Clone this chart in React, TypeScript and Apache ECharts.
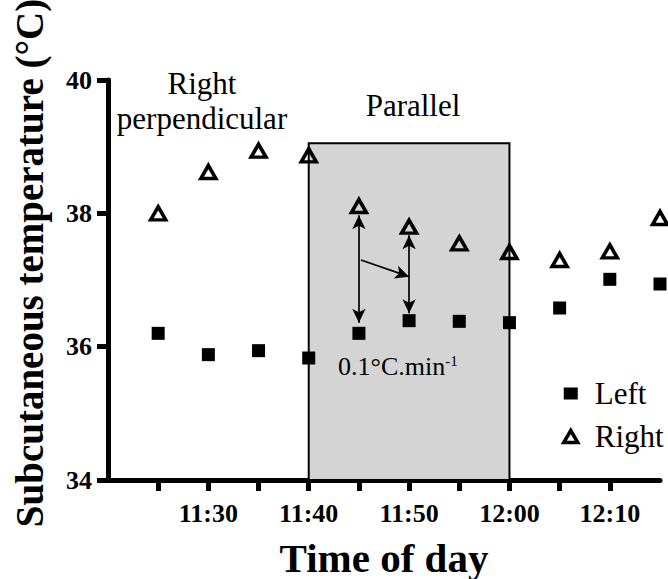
import React, { useEffect, useRef } from "react";
import * as echarts from "echarts";

const FONT = "Liberation Serif";

// Sample times, in minutes since midnight (11:25 … 12:15)
const sampleMinutes = [685, 690, 695, 700, 705, 710, 715, 720, 725, 730, 735];
// Subcutaneous temperature (°C), left and right side
const leftTemps = [36.2, 35.88, 35.94, 35.83, 36.2, 36.39, 36.38, 36.36, 36.58, 37.01, 36.94];
const rightTemps = [38.0, 38.62, 38.94, 38.87, 38.11, 37.8, 37.55, 37.42, 37.3, 37.43, 37.93];

// Time-axis labels (ticks every 5 min, labels every 10 min)
const xLabelMinutes = [690, 700, 710, 720, 730];

// Parallel positioning window (shaded block)
const parallelFrom = 700;
const parallelTo = 720;
const parallelTop = 39.05;

// Gap arrows and the rate arrow between them: [minute, from °C, to °C]
const gapArrowA = [705, 37.97, 36.36];
const gapArrowB = [710, 37.67, 36.5];
const rateArrowFrom = [705.2, 37.3];
const rateArrowTo = [710, 37.05];

const fmtTime = (v: number) =>
  xLabelMinutes.includes(v)
    ? `${Math.floor(v / 60)}:${String(v % 60).padStart(2, "0")}`
    : "";

export default function App() {
  const ref = useRef<HTMLDivElement>(null);

  useEffect(() => {
    if (!ref.current) return;
    const chart = echarts.init(ref.current, null, { renderer: "svg" });

    const boldText = (size: number) => ({
      fontFamily: FONT,
      fontWeight: "bold",
      fontSize: size,
      color: "#000",
    });
    const openTriangle = {
      color: "rgba(0,0,0,0)",
      borderColor: "#000",
      borderWidth: 3.5,
      opacity: 1,
    };

    const option: any = {
      animation: false,
      grid: { left: 108, right: 8, top: 80, bottom: 99, outerBoundsMode: "none" },
      legend: {
        orient: "vertical",
        left: 557,
        top: 373,
        itemWidth: 14,
        itemHeight: 12,
        itemGap: 12,
        textStyle: {
          fontFamily: FONT,
          fontSize: 31,
          color: "#000",
          lineHeight: 30,
          padding: [0, 0, 0, 12],
        },
        data: [{ name: "Left" }, { name: "Right", itemStyle: openTriangle }],
      },
      xAxis: {
        type: "value",
        min: 680,
        max: 735,
        interval: 5,
        splitLine: { show: false },
        axisLine: { show: true, lineStyle: { color: "#000", width: 5 } },
        axisTick: { show: true, length: 11, lineStyle: { color: "#000", width: 5 } },
        axisLabel: {
          showMinLabel: false,
          showMaxLabel: false,
          formatter: (v: number) => fmtTime(v),
          margin: 20,
          ...boldText(26),
        },
        name: "Time of day",
        nameLocation: "middle",
        nameGap: 57,
        nameTextStyle: boldText(41),
      },
      yAxis: {
        type: "value",
        min: 34,
        max: 40,
        interval: 2,
        splitLine: { show: false },
        axisLine: { show: true, lineStyle: { color: "#000", width: 5 } },
        axisTick: { show: true, length: 11, lineStyle: { color: "#000", width: 5 } },
        axisLabel: { margin: 16, ...boldText(26) },
        name: "Subcutaneous temperature (°C)",
        nameLocation: "middle",
        nameGap: 59,
        nameTextStyle: { ...boldText(39), padding: [0, 0, 0, 34] },
      },
      graphic: [
        {
          type: "text",
          x: 202,
          y: 66,
          style: {
            text: "Right\nperpendicular",
            font: "31px 'Liberation Serif'",
            lineHeight: 35,
            fill: "#000",
            align: "center",
            verticalAlign: "top",
          },
        },
        {
          type: "text",
          x: 413,
          y: 105,
          style: {
            text: "Parallel",
            font: "31px 'Liberation Serif'",
            fill: "#000",
            align: "center",
            verticalAlign: "middle",
          },
        },
        {
          type: "text",
          x: 338,
          y: 366,
          z: 10,
          style: {
            text: "{a|0.1°C.min}{b|-1}",
            fill: "#000",
            align: "left",
            verticalAlign: "middle",
            rich: {
              a: { fontFamily: FONT, fontSize: 26, fill: "#000" },
              b: { fontFamily: FONT, fontSize: 15, fill: "#000", verticalAlign: "top" },
            },
          },
        },
      ],
      series: [
        {
          name: "Left",
          type: "scatter",
          symbol: "rect",
          symbolSize: 13,
          itemStyle: { color: "#000", opacity: 1 },
          data: sampleMinutes.map((m, i) => [m, leftTemps[i]]),
          markArea: {
            silent: true,
            itemStyle: { color: "#d4d4d4", borderColor: "#000", borderWidth: 2, opacity: 1 },
            data: [[{ coord: [parallelFrom, 34] }, { coord: [parallelTo, parallelTop] }]],
          },
          markLine: {
            silent: true,
            symbol: ["arrow", "arrow"],
            symbolSize: [10, 14],
            label: { show: false },
            lineStyle: { color: "#000", width: 1.7, type: "solid" },
            data: [
              [{ coord: [gapArrowA[0], gapArrowA[1]] }, { coord: [gapArrowA[0], gapArrowA[2]] }],
              [{ coord: [gapArrowB[0], gapArrowB[1]] }, { coord: [gapArrowB[0], gapArrowB[2]] }],
              [{ coord: rateArrowFrom, symbol: "none" }, { coord: rateArrowTo, symbol: "arrow" }],
            ],
          },
        },
        {
          name: "Right",
          type: "scatter",
          symbol: "triangle",
          symbolSize: [15, 13],
          itemStyle: openTriangle,
          data: sampleMinutes.map((m, i) => [m, rightTemps[i]]),
        },
      ],
    };

    chart.setOption(option);
    return () => chart.dispose();
  }, []);

  return <div ref={ref} style={{ position: "absolute", left: 0, top: 0, width: 668, height: 579 }} />;
}
